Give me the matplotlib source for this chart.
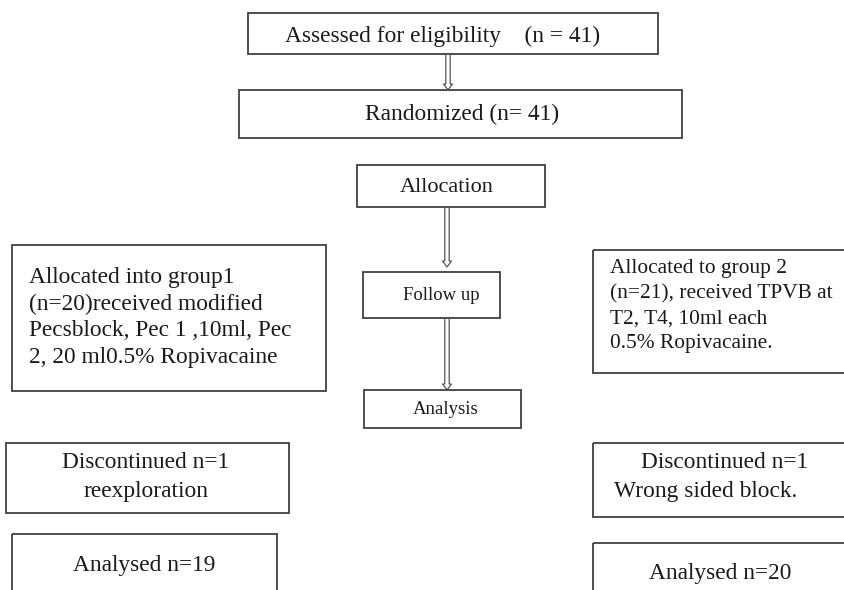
import matplotlib
matplotlib.use("Agg")
import matplotlib.pyplot as plt
from matplotlib.patches import Rectangle, Polygon

# ---- content ----
title_assessed = "Assessed for eligibility    (n = 41)"
title_randomized = "Randomized (n= 41)"
stage_labels = ["Allocation", "Follow up", "Analysis"]
group1_lines = ["Allocated into group1", "(n=20)received modified",
                "Pecsblock, Pec 1 ,10ml, Pec", "2, 20 ml0.5% Ropivacaine"]
group2_lines = ["Allocated to group 2", "(n=21), received TPVB at",
                "T2, T4, 10ml each", "0.5% Ropivacaine."]
disc1_lines = ["Discontinued n=1", "reexploration"]
disc2_lines = ["Discontinued n=1", "Wrong sided block."]
analysed1 = "Analysed n=19"
analysed2 = "Analysed n=20"

# ---- layout (pixels) ----
W, H = 845, 590
fig = plt.figure(figsize=(W / 100, H / 100), dpi=100)
ax = fig.add_axes([0, 0, 1, 1])
ax.set_xlim(0, W)
ax.set_ylim(H, 0)
ax.axis("off")

EC = "#404040"
FONT = "Liberation Serif"
TC = "#1a1a1a"
FS = 16.8


def box(x0, y0, x1, y1):
    ax.add_patch(Rectangle((x0, y0), x1 - x0, y1 - y0, fill=False,
                           edgecolor=EC, linewidth=1.3))


def txt(x, y, s, size=FS, ha="center"):
    ax.text(x, y, s, fontsize=size, family=FONT, ha=ha, va="center", color=TC)


def arrow(x, y0, y1):
    g, hw, hl = 2.2, 4.5, 6
    pts = [(x - g, y0), (x - g, y1 - hl), (x - hw, y1 - hl), (x, y1),
           (x + hw, y1 - hl), (x + g, y1 - hl), (x + g, y0)]
    ax.add_patch(Polygon(pts, closed=False, fill=False, edgecolor="#555555",
                         linewidth=0.9))


# top boxes
box(248, 13, 658, 54)
txt(443, 36, title_assessed)
arrow(448, 54, 90)
box(239, 90, 682, 138)
txt(462, 114, title_randomized)

# central stages
box(357, 165, 545, 207)
txt(447, 187, stage_labels[0], 16)
arrow(447, 207, 267)
box(363, 272, 500, 318)
txt(441, 296, stage_labels[1], 13.5)
arrow(447, 318, 390)
box(364, 390, 521, 428)
txt(446, 409, stage_labels[2], 13.5)

# group 1
box(12, 245, 326, 391)
for i, s in enumerate(group1_lines):
    txt(29, 278 + i * 26.5, s, ha="left")

# group 2
box(593, 250, 850, 373)
for i, s in enumerate(group2_lines):
    txt(610, 269 + i * 24.8, s, 15.4, ha="left")

# discontinued
box(6, 443, 289, 513)
txt(146, 463, disc1_lines[0])
txt(146, 492, disc1_lines[1])
box(593, 443, 850, 517)
txt(725, 463, disc2_lines[0])
txt(614, 492, disc2_lines[1], ha="left")

# analysed
box(12, 534, 277, 600)
txt(144, 565, analysed1)
box(593, 543, 850, 600)
txt(720, 573, analysed2)

fig.savefig("out.png", dpi=100, facecolor="white")
